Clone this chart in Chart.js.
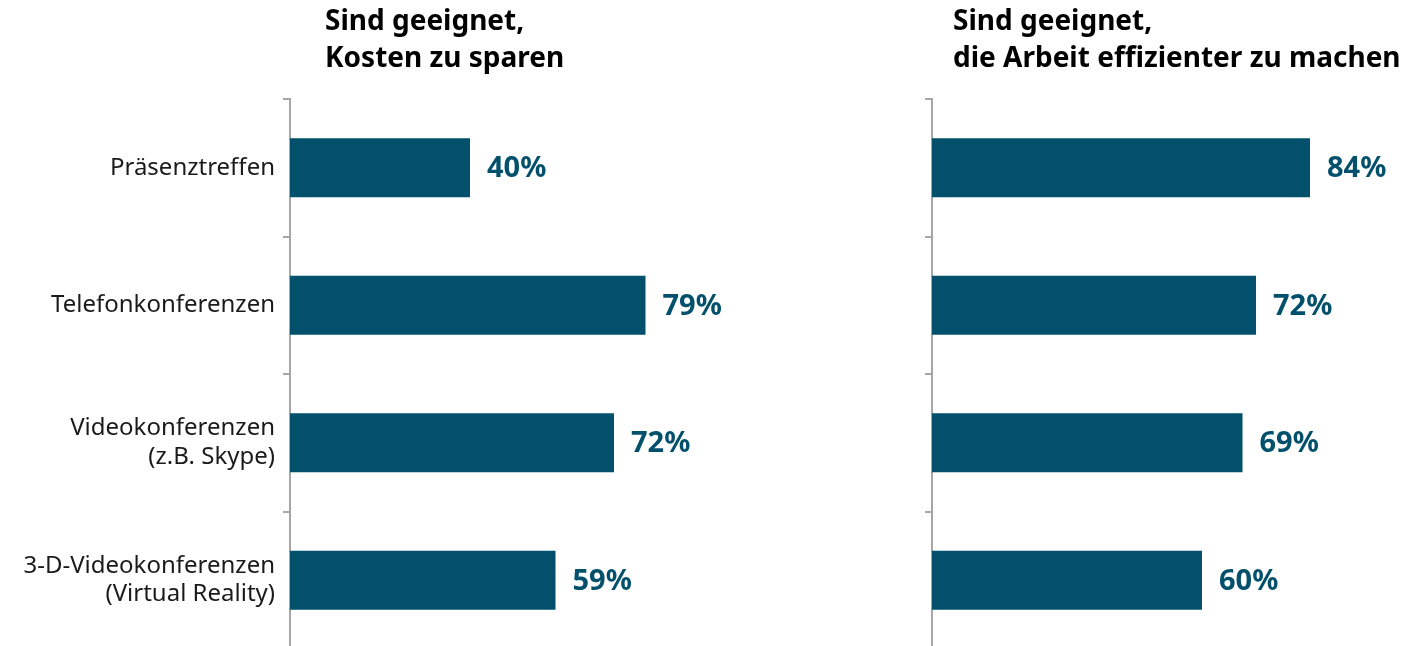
<!DOCTYPE html>
<html>
<head>
<meta charset="utf-8">
<script src="https://cdn.jsdelivr.net/npm/chart.js@4"></script>
<style>
	html, body { margin: 0; padding: 0; background: #fff; overflow: hidden; }
	#wrap { position: relative; width: 1406px; height: 646px; overflow: hidden; }
	.box { position: absolute; top: 0; height: 660px; }
	#box1 { left: 0; width: 760px; }
	#box2 { left: 642px; width: 760px; }
</style>
</head>
<body>
<div id="wrap">
	<div class="box" id="box1"><canvas id="chart1"></canvas></div>
	<div class="box" id="box2"><canvas id="chart2"></canvas></div>
</div>
<script>
// data
var categories = [
	'Präsenztreffen',
	'Telefonkonferenzen',
	['Videokonferenzen', '(z.B. Skype)'],
	['3-D-Videokonferenzen', '(Virtual Reality)']
];
var costValues = [40, 79, 72, 59];
var efficiencyValues = [84, 72, 69, 60];
var title1 = ['Sind geeignet,', 'Kosten zu sparen'];
var title2 = ['Sind geeignet,', 'die Arbeit effizienter zu machen'];

var barColor = '#03506c';
var axisColor = '#a6a6a6';
var fontName = '"Noto Sans", "Open Sans", sans-serif';

// value labels + titles
var labelPlugin = {
	id: 'valueLabels',
	afterDatasetsDraw: function(chart) {
		var ctx = chart.ctx;
		var meta = chart.getDatasetMeta(0);
		var data = chart.data.datasets[0].data;
		ctx.save();
		ctx.fillStyle = barColor;
		ctx.font = 'bold 29px ' + fontName;
		ctx.textAlign = 'left';
		ctx.textBaseline = 'middle';
		meta.data.forEach(function(bar, i) {
			ctx.fillText(data[i] + '%', bar.x + 17, bar.y + 1);
		});
		ctx.restore();
	}
};

var titlePlugin = {
	id: 'panelTitle',
	afterDraw: function(chart, args, opts) {
		var ctx = chart.ctx;
		ctx.save();
		ctx.fillStyle = '#000';
		ctx.font = 'bold 28px ' + fontName;
		ctx.textAlign = 'left';
		ctx.textBaseline = 'middle';
		opts.lines.forEach(function(line, i) {
			ctx.fillText(line, opts.x, 22 + i * 37);
		});
		ctx.restore();
	}
};

function makeConfig(values, titleLines, titleX, showLabels) {
	return {
		type: 'bar',
		data: {
			labels: categories,
			datasets: [{
				data: values,
				backgroundColor: barColor,
				borderWidth: 0,
				categoryPercentage: 1,
				barPercentage: 0.43
			}]
		},
		options: {
			indexAxis: 'y',
			responsive: true,
			maintainAspectRatio: false,
			animation: false,
			layout: {
				padding: { top: 99, bottom: 11, right: 20, left: 0 }
			},
			scales: {
				x: {
					display: false,
					min: 0,
					max: 100
				},
				y: {
					afterFit: function(s) {
						s.width = 290;
						s.paddingTop = 0;
						s.paddingBottom = 0;
					},
					border: { display: true, color: axisColor, width: 2 },
					grid: {
						offset: true,
						drawOnChartArea: false,
						drawTicks: true,
						tickLength: 7,
						color: axisColor,
						lineWidth: 2
					},
					ticks: {
						display: showLabels,
						padding: 8,
						color: '#1a1a1a',
						font: { family: fontName, size: 24, lineHeight: 1.2 }
					}
				}
			},
			plugins: {
				legend: { display: false },
				tooltip: { enabled: false },
				panelTitle: { lines: titleLines, x: titleX }
			}
		},
		plugins: [labelPlugin, titlePlugin]
	};
}

var chart1 = new Chart(document.getElementById('chart1'), makeConfig(costValues, title1, 325, true));
var chart2 = new Chart(document.getElementById('chart2'), makeConfig(efficiencyValues, title2, 311, false));
</script>
</body>
</html>
